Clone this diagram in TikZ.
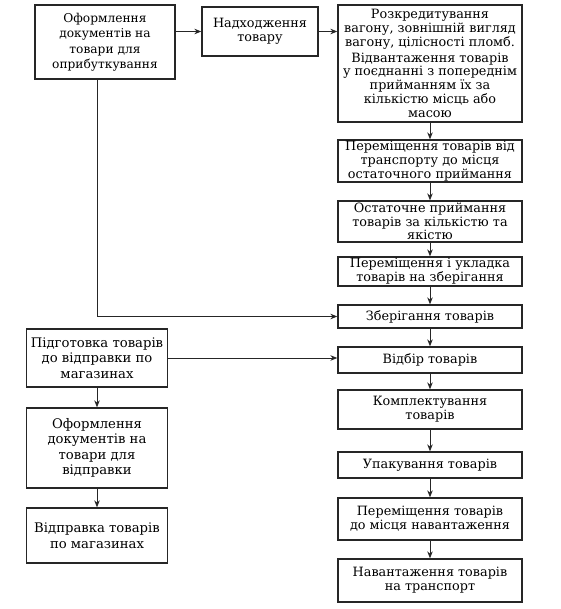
\documentclass[tikz,border=0pt]{standalone}
\usepackage{fontspec}
\setmainfont{DejaVu Serif}
\usepackage{tikz}
\usetikzlibrary{
  arrows.meta,
  positioning
}

\begin{document}
\begin{tikzpicture}[
  x=1pt, y=1pt,
  blk/.style={draw=black!85, line width=1.3pt, inner sep=1pt,
              minimum width=184pt, align=center,
              font=\fontsize{12.8}{13.8}\selectfont},
  lblk/.style={blk, minimum width=141pt, font=\fontsize{13.2}{15.5}\selectfont},
  arr/.style={-{Stealth[length=7pt, width=5.5pt]}, line width=0.9pt, black!85},
]
  \useasboundingbox[fill=white] (0,0) rectangle (560,-609);

  % Receiving: top row
  \node[blk, minimum width=140pt, minimum height=74pt,
        font=\fontsize{12.2}{15.5}\selectfont] (docin) at (105,-42)
    {Оформлення\\документів на\\товари для\\оприбуткування};
  \node[blk, minimum width=116pt, minimum height=49pt] (arrival) at (260,-31.5)
    {Надходження\\товару};
  \node[blk, minimum height=117pt] (unseal) at (430,-63.5)
    {Розкредитування\\вагону, зовнішній вигляд\\вагону, цілісності пломб.\\[2pt]
     Відвантаження товарів\\у поєднанні з попереднім\\прийманням їх за\\кількістю місць або\\масою};

  % Right column
  \node[blk, minimum height=42pt] (move) at (430,-161)
    {Переміщення товарів від\\транспорту до місця\\остаточного приймання};
  \node[blk, minimum height=41pt] (accept) at (430,-221.5)
    {Остаточне приймання\\товарів за кількістю та\\якістю};
  \node[blk, minimum height=29pt] (stow) at (430,-271.5)
    {Переміщення і укладка\\товарів на зберігання};
  \node[blk, minimum height=23pt] (store) at (430,-316.5) {Зберігання товарів};
  \node[blk, minimum height=26pt] (pick) at (430,-360) {Відбір товарів};
  \node[blk, minimum height=39pt] (kit) at (430,-409.5) {Комплектування\\товарів};
  \node[blk, minimum height=26pt] (pack) at (430,-465) {Упакування товарів};
  \node[blk, minimum height=42pt] (toload) at (430,-519)
    {Переміщення товарів\\до місця навантаження};
  \node[blk, minimum height=43pt] (load) at (430,-580.5)
    {Навантаження товарів\\на транспорт};

  % Shipping: left column
  \node[lblk, minimum height=58pt] (prep) at (97,-358)
    {Підготовка товарів\\до відправки по\\магазинах};
  \node[lblk, minimum height=80pt] (docout) at (97,-448)
    {Оформлення\\документів на\\товари для\\відправки};
  \node[lblk, minimum height=55pt] (ship) at (97,-535.5)
    {Відправка товарів\\по магазинах};

  % Connectors
  \draw[arr] (arrival.west -| docin.east) -- (arrival.west);
  \draw[arr] (arrival.east) -- (arrival.east -| unseal.west);
  \foreach \a/\b in {unseal/move, move/accept, accept/stow, stow/store,
                     store/pick, pick/kit, kit/pack, pack/toload, toload/load}
    \draw[arr] (\a) -- (\b);
  \draw[arr] ([xshift=-8pt]docin.south) |- (store.west);
  \draw[arr] (prep.east) -- (prep.east -| pick.west);
  \draw[arr] (prep) -- (docout);
  \draw[arr] (docout) -- (ship);
\end{tikzpicture}
\end{document}
